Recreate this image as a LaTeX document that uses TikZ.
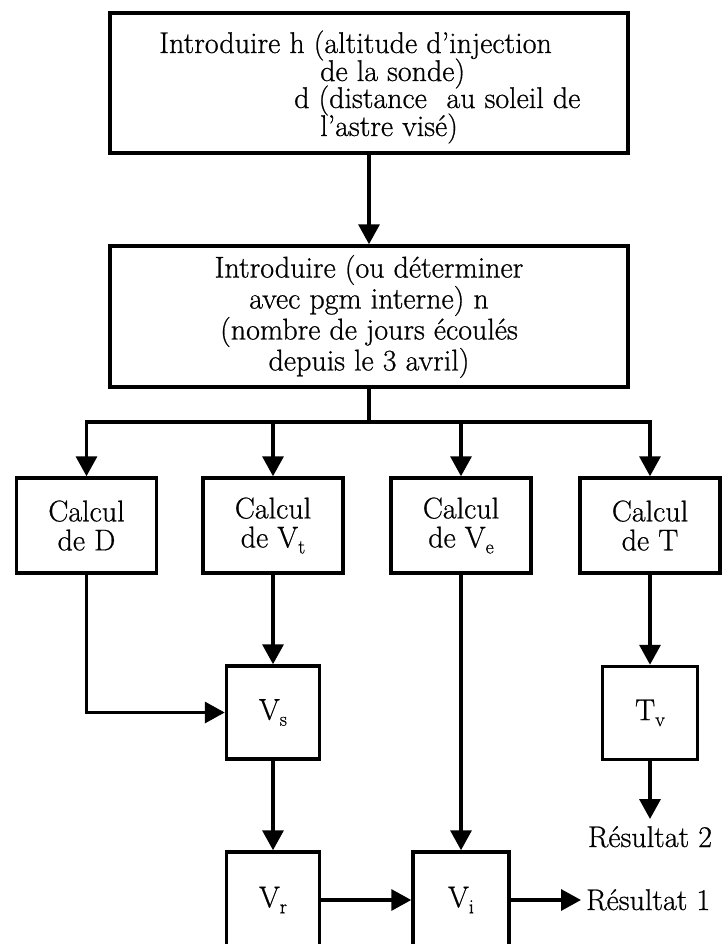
\documentclass[tikz,border=0pt]{standalone}
\usepackage{fontspec}
\setmainfont{Latin Modern Roman}[FakeBold=0.7]
\usetikzlibrary{arrows.meta}
\newcommand{\sbx}[1]{\raisebox{-0.2em}{\fontsize{20}{20}\selectfont #1}}
\begin{document}
\begin{tikzpicture}[x=1pt,y=-1pt,
  box/.style={draw, line width=3.5pt, inner sep=0pt, align=center, font=\fontsize{30}{29}\selectfont},
  txt/.style={inner sep=0pt, font=\fontsize{30}{29}\selectfont},
  conn/.style={line width=3.5pt, -{Triangle[length=20pt,width=21pt]}},
  wire/.style={line width=3.5pt}
]
\useasboundingbox (0,0) rectangle (723,944);
\clip (0,0) rectangle (723,944);
\fill[white] (0,0) rectangle (723,944);

% top box
\node[box, minimum width=518pt, minimum height=140pt] (top) at (369,83) {};
\node[txt, anchor=base west] (t1) at (159,53) {Introduire h (altitude d'injection};
\node[txt, anchor=base west] (t2) at (320,81) {de la sonde)};
\node[txt, anchor=base west] (t3) at (294,108) {d (distance\hspace{0.35em} au soleil de};
\node[txt, anchor=base west] (t4) at (320,136) {l'astre visé)};

% second box
\node[box, font=\fontsize{30}{27}\selectfont, minimum width=518pt, minimum height=141pt] (intro) at (369,316.5)
  {Introduire (ou déterminer\\avec pgm interne) n\\(nombre de jours écoulés\\depuis le 3 avril)};

% calcul boxes
\node[box, minimum width=140pt, minimum height=95pt] (cD) at (86.5,525.5) {Calcul\\de D};
\node[box, minimum width=140pt, minimum height=95pt] (cVt) at (273,525.5) {Calcul\\de V\sbx{t}};
\node[box, minimum width=140pt, minimum height=95pt] (cVe) at (461,525.5) {Calcul\\de V\sbx{e}};
\node[box, minimum width=140pt, minimum height=95pt] (cT) at (650,525.5) {Calcul\\de T};

% lower boxes
\node[box, minimum width=93pt, minimum height=93pt] (Vs) at (273,712.5) {V\sbx{s}};
\node[box, minimum width=95pt, minimum height=93pt] (Tv) at (650,713) {T\sbx{v}};
\node[box, minimum width=93pt, minimum height=96pt] (Vr) at (273,900) {V\sbx{r}};
\node[box, minimum width=96pt, minimum height=96pt] (Vi) at (461,900) {V\sbx{i}};

% result labels
\coordinate (r2tip) at (650,819);
\coordinate (r1tip) at (581,900);
\node[txt, anchor=base] (res2) at (650,847) {Résultat 2};
\node[txt, anchor=base west] (res1) at (586,910) {Résultat 1};

% connectors
\draw[conn] (top.south) -- (intro.north);
\coordinate (bus) at (369,422);
\draw[wire] (intro.south) -- (bus);
\draw[conn] (bus) -| (cD.north);
\draw[conn] (bus) -| (cVt.north);
\draw[conn] (bus) -| (cVe.north);
\draw[conn] (bus) -| (cT.north);

\draw[conn] (cVt.south) -- (Vs.north);
\draw[conn] (cD.south) |- (Vs.west);
\draw[conn] (cT.south) -- (Tv.north);
\draw[conn] (Tv.south) -- (r2tip);
\draw[conn] (Vs.south) -- (Vr.north);
\draw[conn] (cVe.south) -- (Vi.north);
\draw[conn] (Vr.east) -- (Vi.west);
\draw[conn] (Vi.east) -- (r1tip);
\end{tikzpicture}
\end{document}
